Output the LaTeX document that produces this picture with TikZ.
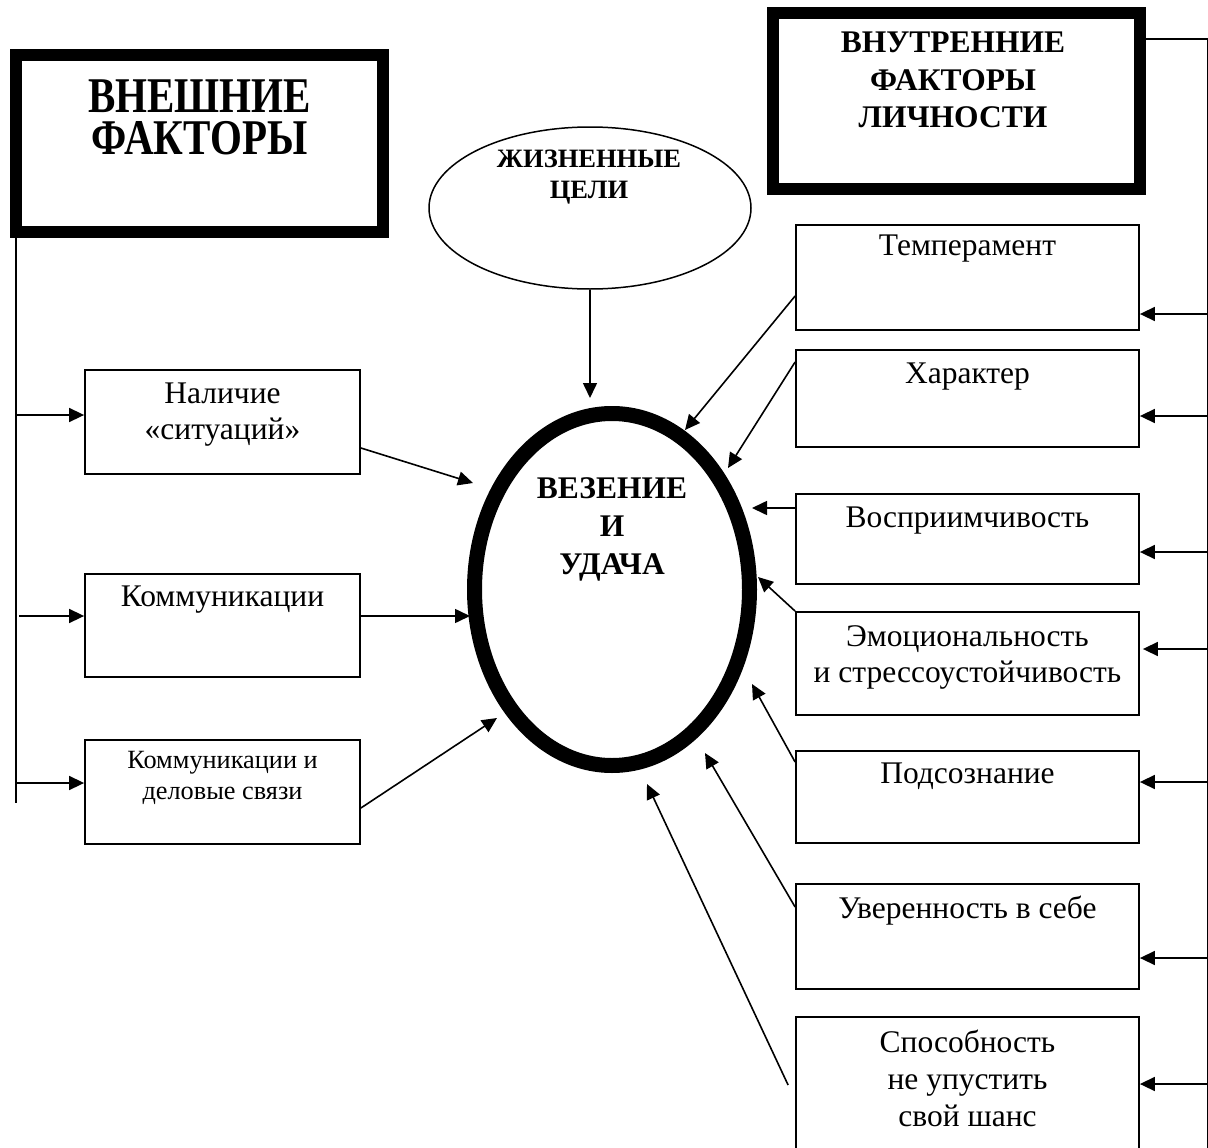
\documentclass[tikz,border=0pt]{standalone}
\usepackage{fontspec}
\usepackage{graphicx}
\setmainfont{Liberation Serif}
\usetikzlibrary{arrows.meta,shapes.geometric,calc}

% centred lines whose reference point is the baseline of the first line
\newcommand\lns[1]{\vtop{\lineskiplimit=-1000pt\halign{\hfil##\hfil\cr#1\crcr}}}

\begin{document}
\begin{tikzpicture}[x=1pt,y=-1pt,
  box/.style={draw, line width=1.8pt, rectangle, inner sep=0pt},
  frame/.style={draw, line width=12pt, rectangle, inner sep=0pt, outer sep=0pt},
  txt/.style={anchor=base, inner sep=0pt, font=\fontsize{31.5}{36}\selectfont},
  smalltxt/.style={txt, font=\fontsize{26.3}{31}\selectfont},
  conn/.style={line width=1.6pt},
  arr/.style={conn, -{Triangle[length=15pt,width=14pt]}},
]
\clip (0,0) rectangle (1208,1148);
\fill[white] (0,0) rectangle (1208,1148);

% headings
\node[frame, minimum width=367pt, minimum height=176pt] (ext) at (199.5,143.5) {};
\node[txt, font=\bfseries\fontsize{50}{43}\selectfont] (ext-t) at (199.5,112) {\scalebox{0.82}[1]{\lns{ВНЕШНИЕ\cr ФАКТОРЫ}}};

\node[frame, minimum width=367pt, minimum height=175.5pt] (int) at (956.5,100.75) {};
\node[txt, font=\bfseries\fontsize{31.5}{37}\selectfont] (int-t) at (953,53) {\lns{ВНУТРЕННИЕ\cr ФАКТОРЫ\cr ЛИЧНОСТИ}};

% goals and the central ellipse
\node[draw, ellipse, line width=1.5pt, minimum width=322pt, minimum height=162pt, inner sep=0pt] (goals) at (590,208) {};
\node[txt, font=\bfseries\fontsize{26.5}{31}\selectfont] (goals-t) at (589,167) {\lns{ЖИЗНЕННЫЕ\cr ЦЕЛИ}};

\node[draw, ellipse, line width=15pt, minimum width=275pt, minimum height=352pt, inner sep=0pt] (luck) at (612,589.5) {};
\node[txt, font=\bfseries\fontsize{31.5}{38}\selectfont] (luck-t) at (612,498) {\lns{ВЕЗЕНИЕ\cr И\cr УДАЧА}};

% external factors
\node[box, minimum width=275pt, minimum height=104pt] (sit) at (222.5,422) {};
\node[txt] (sit-t) at (222.5,403) {\lns{Наличие\cr «ситуаций»}};
\node[box, minimum width=275pt, minimum height=103pt] (comm) at (222.5,625.5) {};
\node[txt] (comm-t) at (222.5,606) {Коммуникации};
\node[box, minimum width=275pt, minimum height=104pt] (dela) at (222.5,792) {};
\node[smalltxt] (dela-t) at (222.5,768) {\lns{Коммуникации и\cr деловые связи}};

% internal factors
\node[box, minimum width=343pt, minimum height=105pt] (temp) at (967.5,277.5) {};
\node[txt] (temp-t) at (967.5,255.5) {Темперамент};
\node[box, minimum width=343pt, minimum height=97pt] (char) at (967.5,398.5) {};
\node[txt] (char-t) at (967.5,383.5) {Характер};
\node[box, minimum width=343pt, minimum height=90pt] (perc) at (967.5,539) {};
\node[txt] (perc-t) at (967.5,527) {Восприимчивость};
\node[box, minimum width=343pt, minimum height=103pt] (emo) at (967.5,663.5) {};
\node[txt] (emo-t) at (967.5,646) {\lns{Эмоциональность\cr и стрессоустойчивость}};
\node[box, minimum width=343pt, minimum height=92pt] (sub) at (967.5,797) {};
\node[txt] (sub-t) at (967.5,783) {Подсознание};
\node[box, minimum width=343pt, minimum height=105pt] (conf) at (967.5,936.5) {};
\node[txt] (conf-t) at (967.5,918) {Уверенность в себе};
\node[box, minimum width=343pt, minimum height=143pt] (chance) at (967.5,1088.5) {};
\node[txt, font=\fontsize{31.5}{37}\selectfont] (chance-t) at (967.5,1052) {\lns{Способность\cr не упустить\cr свой шанс}};

% left bus
\coordinate (lbot) at (16,803);
\coordinate (l1) at (16,415);
\coordinate (l2) at (19,616);
\coordinate (l3) at (16,783);
\draw[conn] (ext.south west) -- (lbot);
\draw[arr] (l1) -- (sit.west |- l1);
\draw[arr] (l2) -- (comm.west |- l2);
\draw[arr] (l3) -- (dela.west |- l3);

% right bus, running along the page edge
\coordinate (rtop) at (1208,39);
\coordinate (rbot) at (1208,1150);
\draw[conn] (int.east |- rtop) -- (rtop) -- (rbot);
\coordinate (r1) at (1208,314);
\coordinate (r2) at (1208,416);
\coordinate (r3) at (1208,552);
\coordinate (r4) at (1208,649);
\coordinate (r5) at (1208,782);
\coordinate (r6) at (1208,958);
\coordinate (r7) at (1208,1084);
\draw[arr] (r1) -- (temp.east |- r1);
\draw[arr] (r2) -- (char.east |- r2);
\draw[arr] (r3) -- (perc.east |- r3);
\draw[arr, shorten >=3pt] (r4) -- (emo.east |- r4);
\draw[arr] (r5) -- (sub.east |- r5);
\draw[arr] (r6) -- (conf.east |- r6);
\draw[arr] (r7) -- (chance.east |- r7);

% arrows into the central ellipse
\coordinate (in-goal) at (590,398);
\coordinate (in-sit) at (473,483);
\coordinate (in-comm) at (470,616);
\coordinate (in-dela) at (497,718);
\coordinate (in-temp) at (685,430);
\coordinate (in-char) at (728,468);
\coordinate (in-perc) at (752,508);
\coordinate (in-emo) at (758,577);
\coordinate (in-sub) at (752,684);
\coordinate (in-conf) at (705,753);
\coordinate (in-chance) at (647,784);

\draw[arr] (goals.south) -- (in-goal);
\draw[arr] ($(sit.east)+(0,26)$) -- (in-sit);
\draw[arr] (comm.east |- in-comm) -- (in-comm);
\draw[arr] ($(dela.east)+(0,16)$) -- (in-dela);
\draw[arr] ($(temp.west)+(0,18.5)$) -- (in-temp);
\draw[arr] ($(char.west)+(0,-36.5)$) -- (in-char);
\draw[arr] (perc.west |- in-perc) -- (in-perc);
\draw[arr] (emo.north west) -- (in-emo);
\draw[arr] ($(sub.west)+(0,-35)$) -- (in-sub);
\draw[arr] ($(conf.west)+(0,-29.5)$) -- (in-conf);
\draw[arr] ($(chance.west)+(-7,-3.5)$) -- (in-chance);
\end{tikzpicture}
\end{document}
